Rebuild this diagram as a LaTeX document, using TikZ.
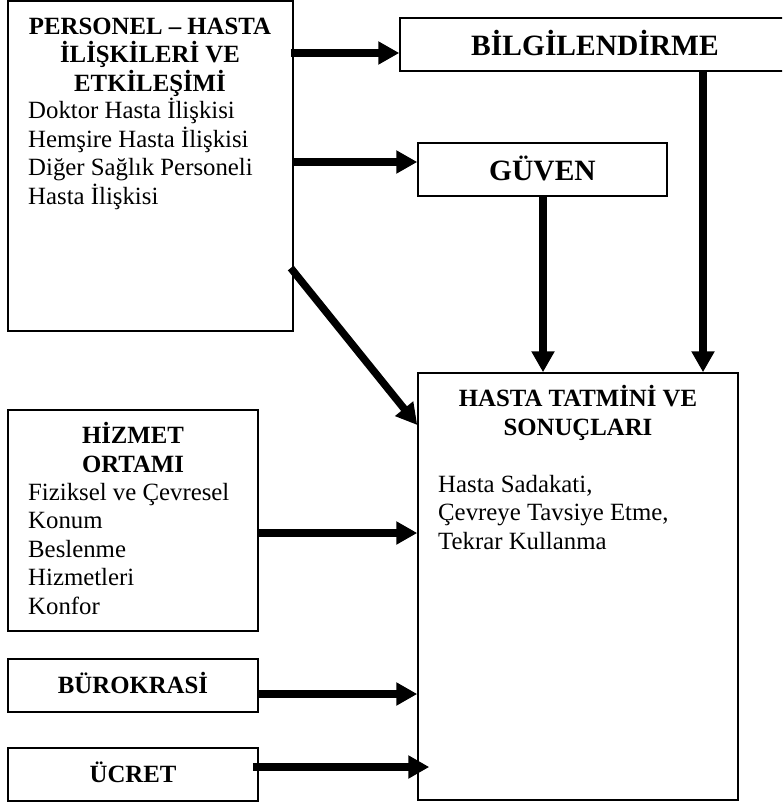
\documentclass[tikz,border=0pt]{standalone}
\usepackage{fontspec}
\setmainfont{Liberation Serif}
\usetikzlibrary{arrows.meta}
\begin{document}
\begin{tikzpicture}[x=1pt,y=-1pt,
  box/.style={draw,line width=1.5pt,inner sep=0pt,rectangle},
  ttl/.style={font=\fontsize{24.8}{28.4}\selectfont\bfseries,align=center,anchor=base,inner sep=0pt},
  big/.style={font=\fontsize{29.5}{33}\selectfont\bfseries,anchor=base,inner sep=0pt},
  body/.style={font=\fontsize{24.8}{28.5}\selectfont,align=left,anchor=base west,inner sep=0pt},
  arr/.style={line width=7.5pt,-{Triangle[length=21pt,width=22pt]}}]
\clip (0,0) rectangle (782,803);
\fill[white] (0,0) rectangle (782,803);

% boxes
\node[box,minimum width=285pt,minimum height=330pt] (pers) at (150.5,166) {};
\node[box,minimum width=390pt,minimum height=53pt] (bil) at (595,44.5) {};
\node[box,minimum width=249pt,minimum height=53pt] (guv) at (542.5,169.5) {};
\node[box,minimum width=320pt,minimum height=427pt] (hasta) at (578,586.5) {};
\node[box,minimum width=250pt,minimum height=221pt] (hiz) at (133,520.5) {};
\node[box,minimum width=250pt,minimum height=53pt] (buro) at (133,685.5) {};
\node[box,minimum width=250pt,minimum height=53pt] (ucret) at (133,774.5) {};

% texts (multi-line nodes sit on the baseline of their last line)
\node[ttl] (persT) at (150,91) {PERSONEL – HASTA\\İLİŞKİLERİ VE\\ETKİLEŞİMİ};
\node[body] (persB) at (28,204) {Doktor Hasta İlişkisi\\Hemşire Hasta İlişkisi\\Diğer Sağlık Personeli\\Hasta İlişkisi};
\node[big] (bilT) at (595,55) {BİLGİLENDİRME};
\node[big] (guvT) at (542.5,180) {GÜVEN};
\node[ttl] (hastaT) at (578,435) {HASTA TATMİNİ VE\\SONUÇLARI};
\node[body] (hastaB) at (438,549) {Hasta Sadakati,\\Çevreye Tavsiye Etme,\\Tekrar Kullanma};
\node[ttl] (hizT) at (133,472) {HİZMET\\ORTAMI};
\node[body] (hizB) at (28,614) {Fiziksel ve Çevresel\\Konum\\Beslenme\\Hizmetleri\\Konfor};
\node[ttl] (buroT) at (133,693) {BÜROKRASİ};
\node[ttl] (ucretT) at (133,782) {ÜCRET};

% connectors
\draw[arr] ([xshift=-3pt]pers.east |- 0,53) -- (bil.west |- 0,53);
\draw[arr] (pers.east |- 0,162) -- (guv.west |- 0,162);
\draw[arr] (bil.south -| 703,0) -- (hasta.north -| 703,0);
\draw[arr] (guv.south -| 543,0) -- (hasta.north -| 543,0);
\draw[arr] ([xshift=-3pt]pers.east |- 0,268) -- (hasta.west |- 0,425);
\draw[arr] (hiz.east |- 0,533) -- (hasta.west |- 0,533);
\draw[arr] (buro.east |- 0,694) -- (hasta.west |- 0,694);
\draw[arr] ([xshift=-6pt]ucret.east |- 0,767) -- ([xshift=12pt]hasta.west |- 0,767);
\end{tikzpicture}
\end{document}
